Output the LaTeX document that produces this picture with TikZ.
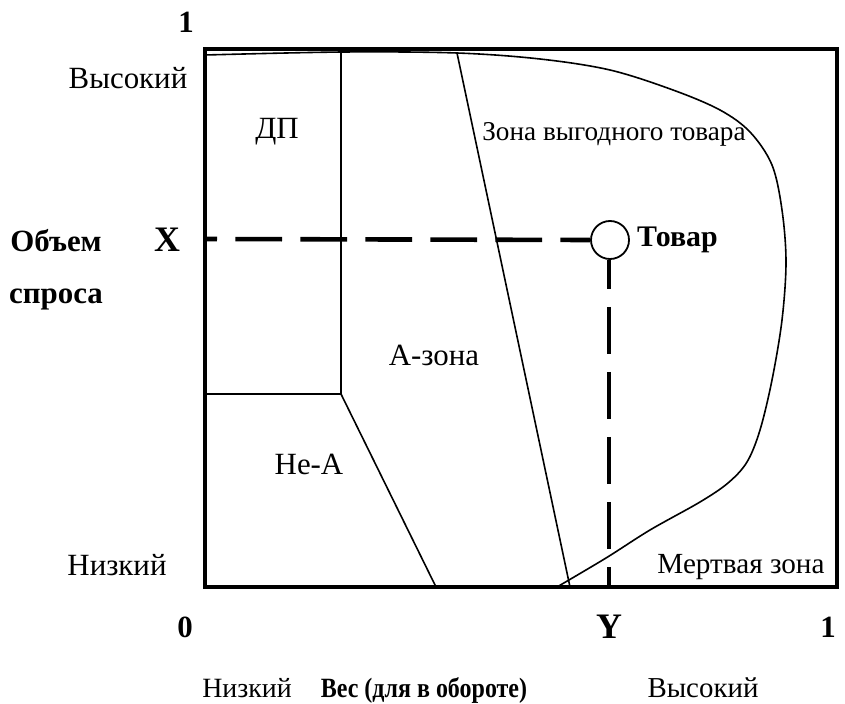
\documentclass[tikz,border=0pt]{standalone}
\usepackage{fontspec}
\setmainfont{Liberation Serif}
\begin{document}
\begin{tikzpicture}[x=1bp,y=-1bp,
  lbl/.style={inner sep=0pt,font=\fontsize{31}{34}\selectfont},
  blbl/.style={inner sep=0pt,font=\fontsize{31}{34}\selectfont\bfseries},
  big/.style={inner sep=0pt,font=\fontsize{36}{40}\selectfont\bfseries},
  axlbl/.style={inner sep=0pt,anchor=base,font=\fontsize{28}{32}\selectfont},
  thin/.style={line width=1.6bp},
  dashline/.style={line width=4.6bp,dash pattern=on 46.7bp off 18.3bp},
  frame/.style={line width=3.6bp}]
\useasboundingbox (0,0) rectangle (845,704);
% frame
\coordinate (tl) at (205,49);
\coordinate (br) at (837,587);
\draw[frame] (tl) rectangle (br);
% outer curve (zone boundary)
\draw[thin] plot[smooth,tension=0.55] coordinates {
 (205,55) (343,52) (457,53) (540,59) (610,70) (673,90) (720,110) (750,132)
 (772,165) (782,210) (786,262) (782,320) (772,380) (760,430) (747,462)
 (728,483) (700,502) (650,530) (606,558) (557,587)};
% DP box
\coordinate (dpTop) at (341,52);
\coordinate (dpCorner) at (341,394);
\coordinate (dpLeft) at (205,394);
\coordinate (aBottom) at (436,587);
\draw[thin] (dpTop) -- (dpCorner) -- (aBottom);
\draw[thin] (dpLeft) -- (dpCorner);
% slanted line
\coordinate (sTop) at (457,53);
\coordinate (sBot) at (570,587);
\draw[thin] (sTop) -- (sBot);
% product
\node[circle,draw,line width=1.8bp,minimum size=38bp,inner sep=0pt,fill=white] (prod) at (610,240) {};
\coordinate (xl) at (205,239);
\coordinate (yb) at (609,587);
\draw[dashline,dash phase=34.7bp] (xl) -- (prod.west);
\draw[dashline,dash phase=18bp] (prod.south -| yb) -- (yb);
% labels
\node[blbl] (one1) at (186,22) {1};
\node[lbl] (hiL) at (128,78) {Высокий};
\node[lbl] (loL) at (117,565) {Низкий};
\node[blbl] (ob) at (56,241) {Объем};
\node[blbl] (sp) at (56,300) {спроса};
\node[big] (X) at (167,240) {X};
\node[blbl,font=\fontsize{30}{34}\selectfont\bfseries,anchor=west] (tov) at (637,240) {Товар};
\node[lbl] (dp) at (277,132) {ДП};
\node[lbl,font=\fontsize{27.3}{30}\selectfont] (zv) at (614,134) {Зона выгодного товара};
\node[lbl] (az) at (434,355) {А-зона};
\node[lbl] (na) at (309,464) {Не-А};
\node[lbl,font=\fontsize{29.3}{32}\selectfont] (mz) at (741,567) {Мертвая зона};
\node[blbl] (zero) at (185,627) {0};
\node[big] (Y) at (609,627) {Y};
\node[blbl] (one2) at (828,627) {1};
\node[axlbl] (loB) at (247,697) {Низкий};
\node[axlbl,font=\fontsize{28}{32}\selectfont\bfseries] (ves) at (424,697) {\scalebox{0.86}[1]{Вес (для в обороте)}};
\node[axlbl,font=\fontsize{29}{32}\selectfont] (hiB) at (703,697) {Высокий};
\end{tikzpicture}
\end{document}
